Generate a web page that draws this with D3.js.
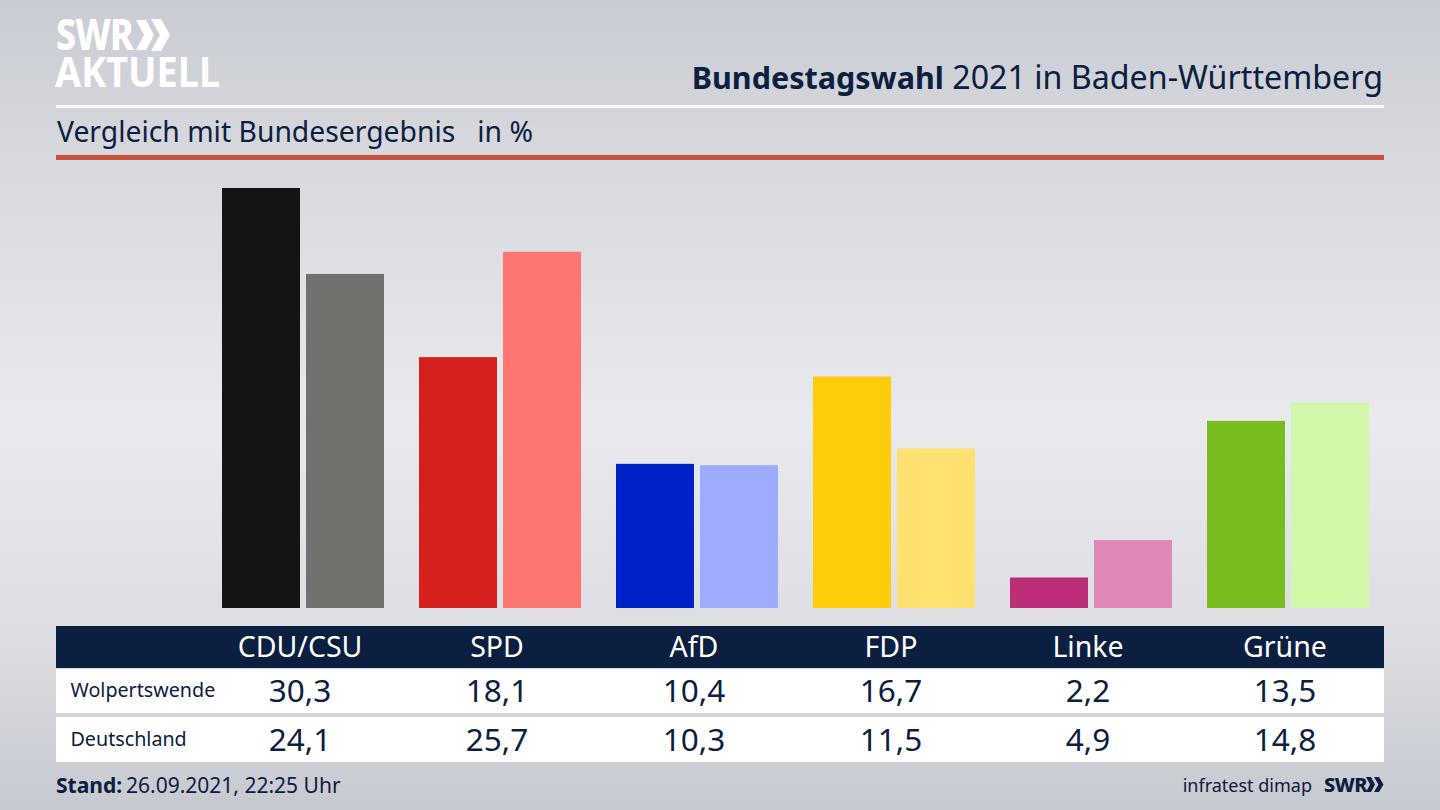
<!DOCTYPE html>
<html>
<head>
<meta charset="utf-8">
<script src="https://cdn.jsdelivr.net/npm/d3@7"></script>
<style>
  html, body { margin: 0; padding: 0; background: #d5d7dc; }
  svg { display: block; }
  text { font-family: 'Noto Sans', sans-serif; fill: #0b2040; }
</style>
</head>
<body>
<svg id="chart" width="1440" height="810"></svg>
<script>
const parties = ['CDU/CSU', 'SPD', 'AfD', 'FDP', 'Linke', 'Grüne'];
const seriesNames = ['Wolpertswende', 'Deutschland'];
const wolpertswende = [30.3, 18.1, 10.4, 16.7, 2.2, 13.5];
const deutschland = [24.1, 25.7, 10.3, 11.5, 4.9, 14.8];
const strongColors = ['#141414', '#d71f1d', '#0021c7', '#ffcc0a', '#bd2e79', '#78bd1e'];
const lightColors = ['#72716e', '#ff7570', '#9dacff', '#ffe070', '#e088b8', '#d2f7a8'];

const navy = '#0b2040';
const format = d3.format('.1f');
const comma = v => format(v).replace('.', ',');

const svg = d3.select('#chart');

// background
const defs = svg.append('defs');
const bg = defs.append('linearGradient')
  .attr('id', 'bg')
  .attr('x1', 0).attr('y1', 0)
  .attr('x2', 0).attr('y2', 1);
[[0, '#c9ccd3'], [0.2, '#d7d9de'], [0.52, '#e9eaee'], [0.78, '#dcdee3'], [1, '#c6c9d0']].forEach(s => {
  bg.append('stop').attr('offset', s[0]).attr('stop-color', s[1]);
});
svg.append('rect').attr('width', 1440).attr('height', 810).attr('fill', 'url(#bg)');

// double chevron of the SWR logo
const chevron = (x, y, h, t, d) => `M${x},${y}h${t}l${d},${h / 2}l${-d},${h / 2}h${-t}l${d},${-h / 2}z`;

// logo
svg.append('text')
  .attr('transform', 'translate(56,50) scale(0.85,1)')
  .attr('font-size', 42).attr('font-weight', 800)
  .attr('letter-spacing', -1)
  .style('fill', '#fff')
  .text('SWR');
svg.append('text')
  .attr('transform', 'translate(55,87) scale(0.9,1)')
  .attr('font-size', 42).attr('font-weight', 700)
  .style('fill', '#fff')
  .text('AKTUELL');
svg.append('path').attr('d', chevron(136, 20, 30, 10, 8)).attr('fill', '#fff');
svg.append('path').attr('d', chevron(151, 19, 32, 10, 9)).attr('fill', '#fff');

// header
const title = svg.append('text')
  .attr('x', 1383).attr('y', 89)
  .attr('text-anchor', 'end')
  .attr('font-size', 32.2);
title.append('tspan').attr('font-size', 30.5).attr('font-weight', 700).text('Bundestagswahl');
title.append('tspan').text(' 2021 in Baden-Württemberg');

svg.append('rect').attr('x', 56).attr('y', 105).attr('width', 1328).attr('height', 3).attr('fill', '#fff');

svg.append('text')
  .attr('x', 57).attr('y', 142)
  .attr('font-size', 28.3)
  .attr('xml:space', 'preserve')
  .text('Vergleich mit Bundesergebnis   in %');

svg.append('rect').attr('x', 56).attr('y', 155).attr('width', 1328).attr('height', 5).attr('fill', '#c8513e');

// scales
const x0 = d3.scaleBand().domain(parties).range([204.5, 1386.5]);
const x1 = d3.scaleBand().domain(seriesNames).range([0, 162]).paddingInner(6 / 84);
const y = d3.scaleLinear().domain([0, 30.3]).range([608, 188]);
const labelX = p => x0(p) + x0.bandwidth() / 2 - 3;

// bars
const rows = parties.map((p, i) => ({ party: p, values: [wolpertswende[i], deutschland[i]], colors: [strongColors[i], lightColors[i]] }));
const groups = svg.append('g').selectAll('g')
  .data(rows)
  .join('g')
  .attr('transform', d => `translate(${x0(d.party) + (x0.bandwidth() - 162) / 2},0)`);
groups.selectAll('rect')
  .data(d => d.values.map((v, i) => ({ name: seriesNames[i], value: v, color: d.colors[i] })))
  .join('rect')
  .attr('x', d => x1(d.name))
  .attr('y', d => y(d.value))
  .attr('width', x1.bandwidth())
  .attr('height', d => y(0) - y(d.value))
  .attr('fill', d => d.color);

// table
svg.append('rect').attr('x', 56).attr('y', 626).attr('width', 1328).attr('height', 42).attr('fill', navy);
svg.append('rect').attr('x', 56).attr('y', 669).attr('width', 1328).attr('height', 44).attr('fill', '#fff');
svg.append('rect').attr('x', 56).attr('y', 717).attr('width', 1328).attr('height', 45).attr('fill', '#fff');

svg.append('g').selectAll('text')
  .data(parties)
  .join('text')
  .attr('x', labelX)
  .attr('y', 657)
  .attr('text-anchor', 'middle')
  .attr('font-size', 28.5)
  .style('fill', '#fff')
  .text(d => d);

[wolpertswende, deutschland].forEach((values, i) => {
  const rowY = [702, 751][i];
  svg.append('text')
    .attr('x', 70.5).attr('y', [697, 746][i])
    .attr('font-size', 19.7)
    .text(seriesNames[i]);
  svg.append('g').selectAll('text')
    .data(values)
    .join('text')
    .attr('x', (d, j) => labelX(parties[j]))
    .attr('y', rowY)
    .attr('text-anchor', 'middle')
    .attr('font-size', 31.5)
    .text(d => comma(d));
});

// footer
const stand = svg.append('text').attr('x', 56).attr('y', 793).attr('font-size', 21);
stand.append('tspan').attr('font-weight', 700).text('Stand:');
stand.append('tspan').attr('x', 126).text('26.09.2021, 22:25 Uhr');

svg.append('text')
  .attr('x', 1312).attr('y', 792)
  .attr('text-anchor', 'end')
  .attr('font-size', 18)
  .text('infratest dimap');
svg.append('text')
  .attr('x', 1324).attr('y', 792)
  .attr('font-size', 20).attr('font-weight', 800)
  .attr('letter-spacing', -0.5)
  .text('SWR');
svg.append('path').attr('d', chevron(1366, 777, 15, 5, 4)).attr('fill', navy);
svg.append('path').attr('d', chevron(1374, 777, 15, 5, 4.5)).attr('fill', navy);
</script>
</body>
</html>
